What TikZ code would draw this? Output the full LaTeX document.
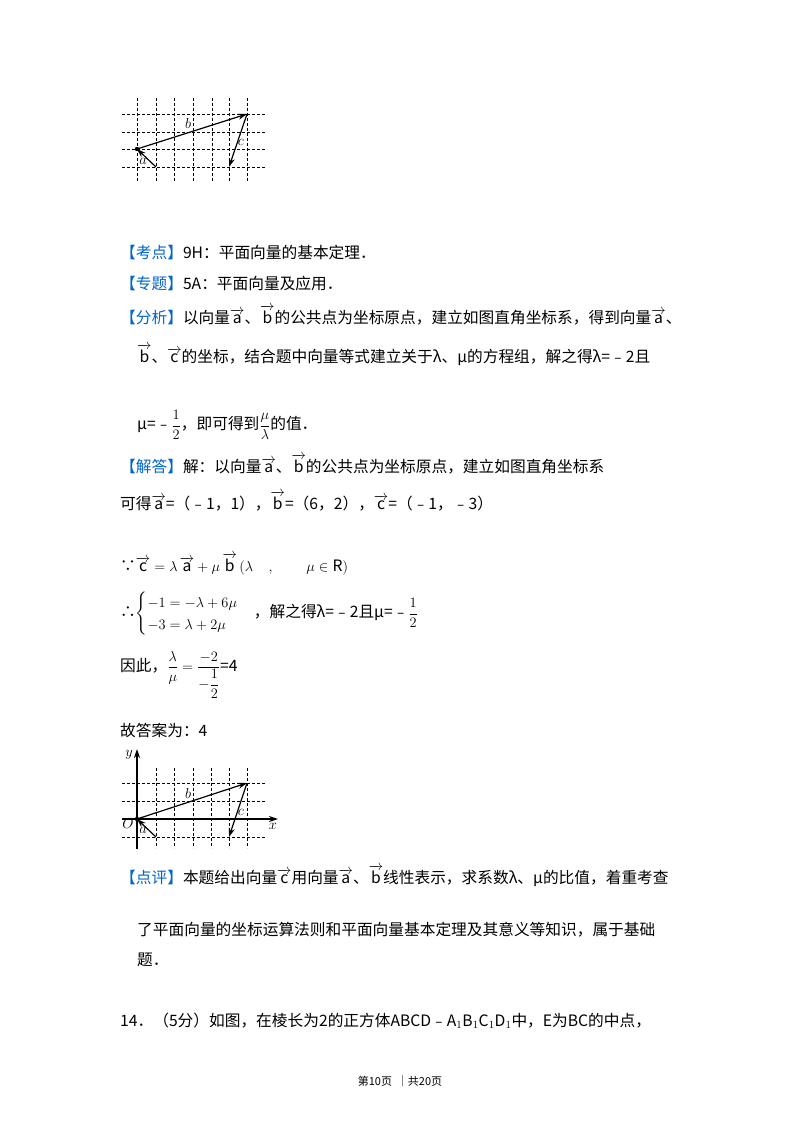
\documentclass[tikz,border=0pt]{standalone}
\usepackage{fontspec}
\usepackage{amsmath}
\usetikzlibrary{arrows.meta}
\setmainfont{Noto Sans CJK SC}
\definecolor{kblue}{RGB}{0,102,204}
\newcommand{\kb}[1]{\textcolor{kblue}{【#1】}}
\newcommand{\va}{\overrightarrow{\mathrm{a}}}
\newcommand{\vb}{\overrightarrow{\mathrm{b}}}
\newcommand{\vc}{\overrightarrow{\mathrm{c}}}
\begin{document}
\begin{tikzpicture}[x=1pt,y=-1pt,
  txt/.style={anchor=west,inner sep=0pt,font=\fontsize{15.7}{19}\selectfont},
  grid/.style={densely dashed,line width=0.9pt},
  vec/.style={-{Stealth[length=9pt,width=6pt]},line width=1.2pt},
  lab/.style={inner sep=0pt,font=\fontsize{15}{16}\selectfont}]
\useasboundingbox[fill=white] (0,0) rectangle (800,1132);
% figure 1
\foreach \x in {137,156,174,193,212,229,247} \draw[grid] (\x,98) -- (\x,182);
\foreach \y in {114,132,149,167} \draw[grid] (122,\y) -- (265,\y);
\coordinate (O1) at (137,149);
\coordinate (A1) at (156,167);
\coordinate (B1) at (247,114);
\coordinate (C1) at (229,167);
\fill (O1) circle (2.2);
\draw[vec] (A1) -- (O1);
\draw[vec] (O1) -- (B1);
\draw[vec] (B1) -- (C1);
\node[lab] (la1) at (188,123) {$b$};
\node[lab] (lc1) at (241,142) {$c$};
\node[lab] (lo1) at (143,161) {$a$};
% text
\node[txt] (t1) at (120,253) {\kb{考点}9H：平面向量的基本定理．};
\node[txt] (t2) at (120,284) {\kb{专题}5A：平面向量及应用．};
\node[txt] (t3) at (120,315) {\kb{分析}以向量$\va$、$\vb$的公共点为坐标原点，建立如图直角坐标系，得到向量$\va$、};
\node[txt] (t4) at (137,355) {$\vb$、$\vc$的坐标，结合题中向量等式建立关于λ、μ的方程组，解之得λ=﹣2且};
\node[txt] (t5) at (137,425) {μ=﹣$\dfrac{1}{2}$，即可得到$\dfrac{\mu}{\lambda}$的值．};
\node[txt] (t6) at (120,464) {\kb{解答}解：以向量$\va$、$\vb$的公共点为坐标原点，建立如图直角坐标系};
\node[txt] (t7) at (120,501) {可得$\va$=（﹣1，1），$\vb$=（6，2），$\vc$=（﹣1，﹣3）};
\node[txt] (t8) at (120,564) {∵$\vc=\lambda\,\va+\mu\,\vb\,(\lambda\quad,\qquad\mu\in\mathrm{R})$};
\node[txt] (t9) at (120,614) {∴$\begin{cases}-1=-\lambda+6\mu\\-3=\lambda+2\mu\end{cases}$，解之得λ=﹣2且μ=﹣$\dfrac{1}{2}$};
\node[txt] (t10) at (120,675) {因此，$\dfrac{\lambda}{\mu}=\dfrac{-2}{-\dfrac{1}{2}}$=4};
\node[txt] (t11) at (120,730) {故答案为：4};
% figure 2
\foreach \x in {156,174,193,211,229,247} \draw[grid] (\x,768) -- (\x,848);
\foreach \y in {783,801,837} \draw[grid] (122,\y) -- (265,\y);
\coordinate (O2) at (137,819);
\coordinate (A2) at (156,837);
\coordinate (B2) at (247,783);
\coordinate (C2) at (229,837);
\coordinate (ye) at (137,749);
\coordinate (yb) at (137,849);
\coordinate (xb) at (122,819);
\coordinate (xe) at (278,819);
\draw[-{Stealth[length=9pt,width=6pt]},line width=1.4pt] (yb) -- (ye);
\draw[-{Stealth[length=9pt,width=6pt]},line width=1.4pt] (xb) -- (xe);
\fill (O2) circle (2.2);
\draw[vec] (A2) -- (O2);
\draw[vec] (O2) -- (B2);
\draw[vec] (B2) -- (C2);
\node[lab] (lb2) at (188,793) {$b$};
\node[lab] (lc2) at (241,812) {$c$};
\node[lab] (la2) at (143,830) {$a$};
\node[lab] (ly) at (129,755) {$y$};
\node[lab] (lO) at (128,824) {$O$};
\node[lab] (lx) at (273,826) {$x$};
% remark
\node[txt] (t12) at (120,876) {\kb{点评}本题给出向量$\vc$用向量$\va$、$\vb$线性表示，求系数λ、μ的比值，着重考查};
\node[txt] (t13) at (137,930) {了平面向量的坐标运算法则和平面向量基本定理及其意义等知识，属于基础};
\node[txt] (t14) at (137,960) {题．};
\node[txt] (t15) at (120,1021) {14．（5分）如图，在棱长为2的正方体ABCD﹣A$_1$B$_1$C$_1$D$_1$中，E为BC的中点，};
\node[inner sep=0pt,font=\fontsize{11}{13}\selectfont] (ft) at (400,1081) {第10页\ \ ｜共20页};
\end{tikzpicture}
\end{document}
